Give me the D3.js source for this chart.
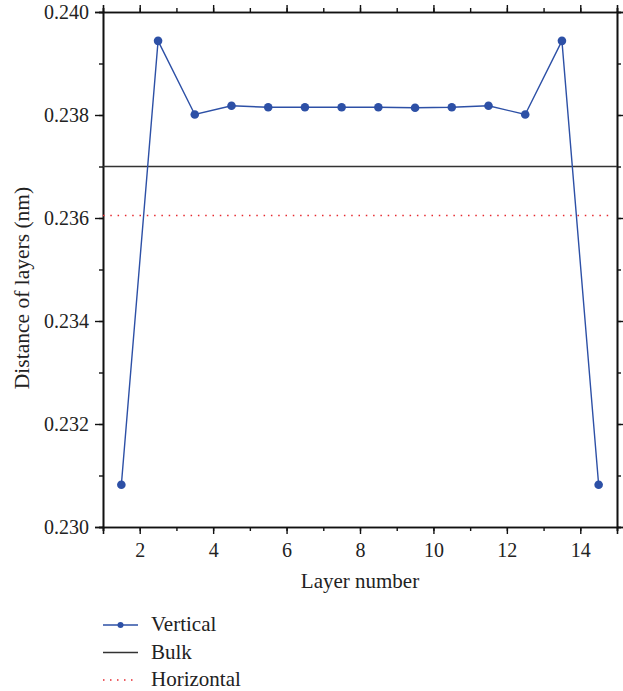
<!DOCTYPE html>
<html>
<head>
<meta charset="utf-8">
<script src="https://cdn.jsdelivr.net/npm/d3@7"></script>
<style>
  body { margin: 0; background: #fff; }
  text { font-family: "Liberation Serif", "DejaVu Serif", serif; fill: #222; }
</style>
</head>
<body>
<div id="chart"></div>
<script>
// layer positions and interlayer distances (nm)
var layers = [1.5, 2.5, 3.5, 4.5, 5.5, 6.5, 7.5, 8.5, 9.5, 10.5, 11.5, 12.5, 13.5, 14.5];
var vertical = [0.23082, 0.23944, 0.23801, 0.23818, 0.23815, 0.23815, 0.23815, 0.23815,
                0.23814, 0.23815, 0.23818, 0.23801, 0.23944, 0.23082];
var bulk = 0.23700;
var horizontal = 0.23605;
var xTicks = [2, 4, 6, 8, 10, 12, 14];
var yTicks = [0.230, 0.232, 0.234, 0.236, 0.238, 0.240];
var legendItems = ["Vertical", "Bulk", "Horizontal"];

var w = 623, h = 691;
var margin = {left: 103, top: 12, right: 6, bottom: 164};

var svg = d3.select("#chart").append("svg")
    .attr("width", w)
    .attr("height", h);

var xScale = d3.scaleLinear().domain([1, 15]).range([margin.left, w - margin.right]);
var yScale = d3.scaleLinear().domain([0.230, 0.240]).range([h - margin.bottom, margin.top]);

var blue = "#2d50a6";
var red = "#e62a30";

// axes - major ticks with labels, minor ticks without
function styleAxis(g) {
    g.selectAll(".domain").attr("stroke", "#111").attr("stroke-width", 1.6);
    g.selectAll(".tick line").attr("stroke", "#111").attr("stroke-width", 1.4);
    g.selectAll("text").attr("font-size", "20px").style("font-family", "Liberation Serif, serif").attr("fill", "#222");
}
var xMinor = d3.range(1, 16, 1);
var yMinor = d3.range(0, 11).map(function(i) { return 0.230 + i * 0.001; });

var bottomAxis = svg.append("g").attr("transform", "translate(0," + yScale(0.230) + ")");
bottomAxis.call(d3.axisBottom(xScale).tickValues(xMinor).tickSize(4).tickFormat(""));
bottomAxis.append("g").call(d3.axisBottom(xScale).tickValues(xTicks).tickSize(7).tickPadding(9).tickFormat(d3.format("d")));
styleAxis(bottomAxis);

var topAxis = svg.append("g").attr("transform", "translate(0," + yScale(0.240) + ")");
topAxis.call(d3.axisTop(xScale).tickValues(xMinor).tickSize(4).tickFormat(""));
topAxis.append("g").call(d3.axisTop(xScale).tickValues(xTicks).tickSize(7).tickFormat(""));
styleAxis(topAxis);

var leftAxis = svg.append("g").attr("transform", "translate(" + xScale(1) + ",0)");
leftAxis.call(d3.axisLeft(yScale).tickValues(yMinor).tickSize(4).tickFormat(""));
leftAxis.append("g").call(d3.axisLeft(yScale).tickValues(yTicks).tickSize(8).tickPadding(6).tickFormat(d3.format(".3f")));
styleAxis(leftAxis);

var rightAxis = svg.append("g").attr("transform", "translate(" + xScale(15) + ",0)");
rightAxis.call(d3.axisRight(yScale).tickValues(yMinor).tickSize(4).tickFormat(""));
rightAxis.append("g").call(d3.axisRight(yScale).tickValues(yTicks).tickSize(7).tickFormat(""));
styleAxis(rightAxis);

// reference lines
svg.append("line")
    .attr("x1", xScale(1)).attr("x2", xScale(15))
    .attr("y1", yScale(bulk)).attr("y2", yScale(bulk))
    .attr("stroke", "#333").attr("stroke-width", 1.4);

svg.append("line")
    .attr("x1", xScale(1)).attr("x2", xScale(15) - 6)
    .attr("y1", yScale(horizontal)).attr("y2", yScale(horizontal))
    .attr("stroke", red).attr("stroke-width", 1.6)
    .attr("stroke-dasharray", "1.5,5.8");

// vertical series
var pts = layers.map(function(d, i) { return [d, vertical[i]]; });
svg.append("path")
    .datum(pts)
    .attr("fill", "none")
    .attr("stroke", blue)
    .attr("stroke-width", 1.4)
    .attr("d", d3.line().x(function(d) { return xScale(d[0]); }).y(function(d) { return yScale(d[1]); }));

svg.append("g").selectAll("circle")
    .data(pts)
    .enter()
    .append("circle")
    .attr("cx", function(d) { return xScale(d[0]); })
    .attr("cy", function(d) { return yScale(d[1]); })
    .attr("r", 4.3)
    .attr("fill", blue);

// axis titles
svg.append("text")
    .attr("x", (xScale(1) + xScale(15)) / 2)
    .attr("y", 588)
    .attr("text-anchor", "middle")
    .attr("font-size", "21px")
    .text("Layer number");

svg.append("text")
    .attr("transform", "translate(29,288)rotate(-90)")
    .attr("text-anchor", "middle")
    .attr("font-size", "21.5px")
    .text("Distance of layers (nm)");

// legend
var legend = svg.append("g").selectAll("g")
    .data(legendItems)
    .enter()
    .append("g")
    .attr("transform", function(d, i) { return "translate(103," + (625 + i * 27.5) + ")"; });

legend.append("line")
    .attr("x1", 0).attr("x2", 35)
    .attr("stroke", function(d, i) { return i == 0 ? blue : i == 1 ? "#333" : red; })
    .attr("stroke-width", function(d, i) { return i == 2 ? 1.6 : 1.5; })
    .attr("stroke-dasharray", function(d, i) { return i == 2 ? "1.5,5.5" : null; });

legend.filter(function(d, i) { return i == 0; })
    .append("circle")
    .attr("cx", 17.5).attr("r", 3)
    .attr("fill", blue);

legend.append("text")
    .attr("x", 48)
    .attr("y", 6)
    .attr("font-size", "21px")
    .text(function(d) { return d; });
</script>
</body>
</html>
